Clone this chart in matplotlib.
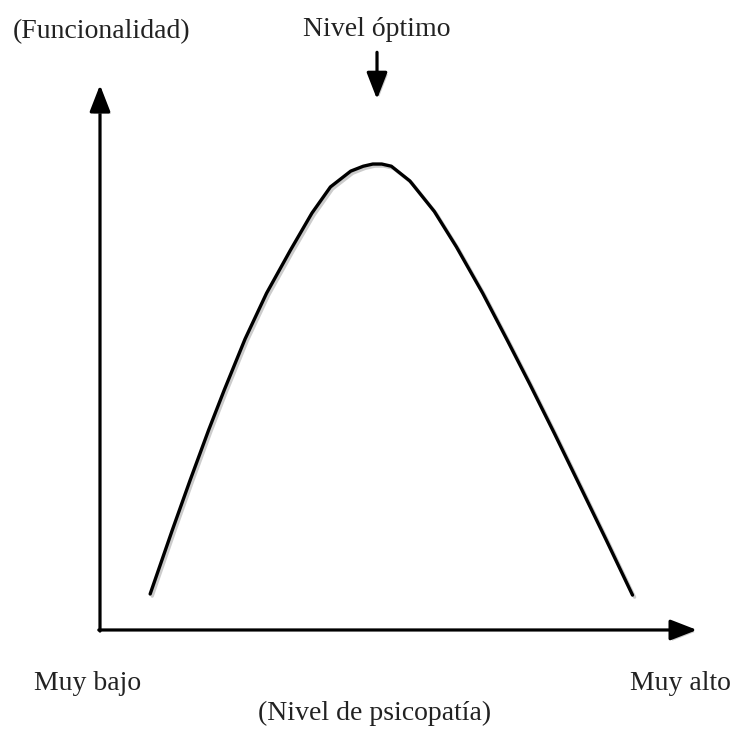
import matplotlib
matplotlib.use("Agg")
import matplotlib.pyplot as plt
import matplotlib.patheffects as pe

# curve (x = nivel de psicopatia, y = funcionalidad, 0..10 scale)
curve_x = [0.84, 1.21, 1.51, 1.82, 2.08, 2.43, 2.79, 3.19, 3.55, 3.86, 4.20, 4.41,
           4.57, 4.72, 4.88, 5.19, 5.60, 5.97, 6.41, 6.83, 7.20, 7.61, 8.05, 8.48, 8.92]
curve_y = [0.66, 1.83, 2.75, 3.67, 4.40, 5.34, 6.18, 6.97, 7.65, 8.13, 8.42, 8.51,
           8.55, 8.55, 8.51, 8.24, 7.68, 7.03, 6.18, 5.30, 4.51, 3.61, 2.62, 1.65, 0.64]

x_end = 10.0    # tip of the horizontal arrow
y_end = 10.0    # tip of the vertical arrow
peak_x = 4.64

x_label = "(Nivel de psicopatía)"
y_label = "(Funcionalidad)"
low_label = "Muy bajo"
high_label = "Muy alto"
peak_label = "Nivel óptimo"

fig = plt.figure(figsize=(7.37, 7.29), dpi=100)
ax = fig.add_axes([0, 0, 1, 1])
ax.set_xlim(-1.675, 10.67)
ax.set_ylim(-1.817, 11.56)
ax.axis("off")

shadow = [pe.SimpleLineShadow(offset=(1.5, -1.5), shadow_color="gray", alpha=0.4), pe.Normal()]
ashadow = [pe.SimplePatchShadow(offset=(1.5, -1.5), shadow_rgbFace="gray", alpha=0.4), pe.Normal()]

ax.plot(curve_x, curve_y, color="black", lw=2.4, solid_capstyle="round",
        solid_joinstyle="round", path_effects=shadow)

arrow = dict(arrowstyle="-|>,head_length=0.9,head_width=0.35", color="black",
             lw=2.3, mutation_scale=18, shrinkA=0, shrinkB=0, path_effects=ashadow)
ax.annotate("", xy=(x_end, 0), xytext=(-0.02, 0), arrowprops=arrow)
ax.annotate("", xy=(0, y_end), xytext=(0, -0.02), arrowprops=arrow)
ax.annotate("", xy=(peak_x, 9.74), xytext=(peak_x, 10.6), arrowprops=arrow)

font = dict(family=["Liberation Serif", "DejaVu Serif"], fontsize=20, color="#222222",
            ha="center", va="center")
ax.text(0.03, 10.98, y_label, **font)
ax.text(peak_x, 11.02, peak_label, **font)
ax.text(-0.2, -0.98, low_label, **font)
ax.text(9.72, -0.98, high_label, **font)
ax.text(4.6, -1.53, x_label, **font)

fig.savefig("out.png", dpi=100, facecolor="white")
